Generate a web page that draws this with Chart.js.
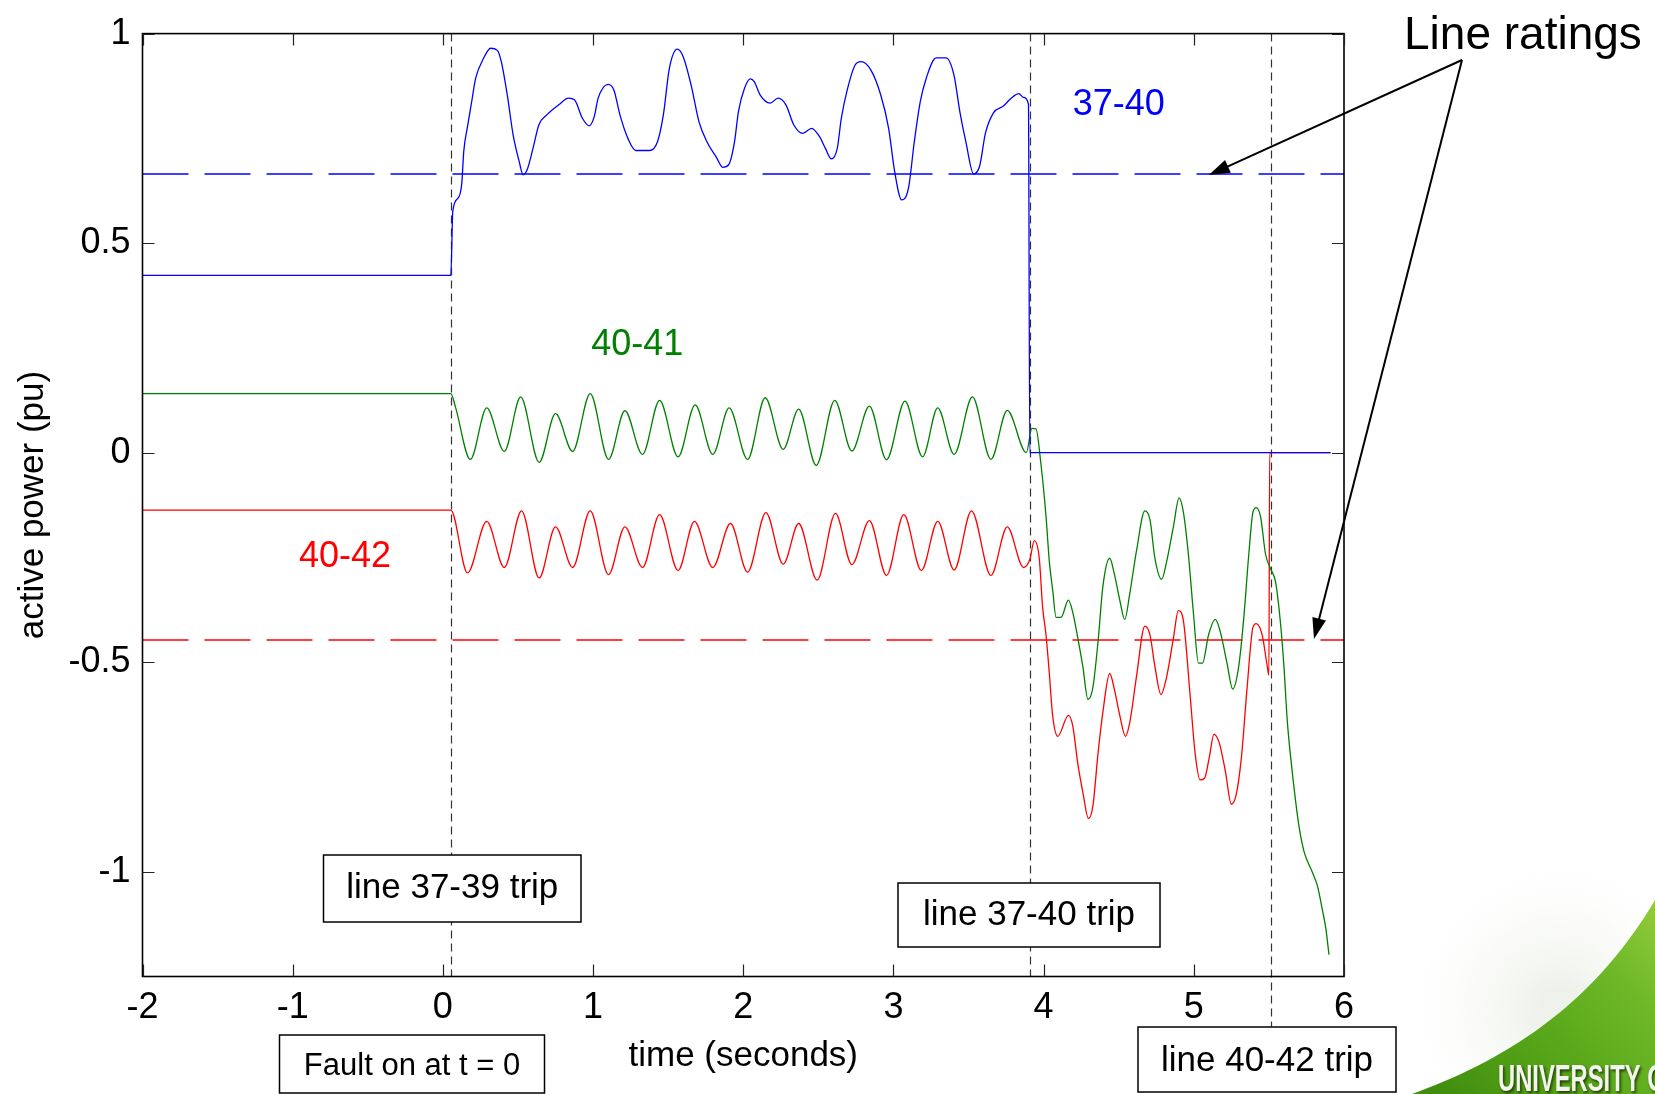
<!DOCTYPE html>
<html>
<head>
<meta charset="utf-8">
<title>active power after line trips</title>
<script src="https://cdn.jsdelivr.net/npm/chart.js@4.4.1/dist/chart.umd.min.js"></script>
<style>
  html, body { margin: 0; padding: 0; background: #fff; }
  canvas { display: block; }
</style>
</head>
<body>
<canvas id="powerChart" width="1655" height="1094"></canvas>
<script>
const FONT = 'Liberation Sans, Arial, Helvetica, sans-serif'

// axis ticks
const xTicks = [-2, -1, 0, 1, 2, 3, 4, 5, 6]
const yTicks = [-1, -0.5, 0, 0.5, 1]

// line 37-40 (blue)
const t3740 = [-2, 0.053, 0.066, 0.1, 0.126, 0.139, 0.166, 0.192, 0.218, 0.271, 0.318, 0.363, 0.389, 0.429, 0.468, 0.508, 0.534, 0.561, 0.6, 0.639,
  0.692, 0.771, 0.837, 0.876, 0.929, 0.974, 1.008, 1.034, 1.1, 1.139, 1.179, 1.232, 1.284, 1.376, 1.429, 1.468, 1.508, 1.561, 1.6, 1.653,
  1.705, 1.758, 1.824, 1.863, 1.903, 1.942, 1.968, 2.008, 2.047, 2.074, 2.113, 2.179, 2.232, 2.284, 2.337, 2.397, 2.455, 2.508, 2.547, 2.587,
  2.626, 2.653, 2.692, 2.745, 2.784, 2.85, 2.916, 2.968, 3.008, 3.055, 3.1, 3.139, 3.179, 3.218, 3.284, 3.35, 3.403, 3.442, 3.482, 3.534,
  3.574, 3.613, 3.666, 3.732, 3.784, 3.835, 3.864, 3.899, 3.908, 5.91]
const p3740 = [0.423, 0.423, 0.576, 0.607, 0.643, 0.719, 0.782, 0.838, 0.893, 0.941, 0.965, 0.96, 0.933, 0.853, 0.758, 0.695, 0.663, 0.675, 0.726, 0.782,
  0.806, 0.83, 0.846, 0.842, 0.798, 0.78, 0.802, 0.846, 0.879, 0.865, 0.806, 0.75, 0.721, 0.721, 0.742, 0.806, 0.917, 0.963, 0.945, 0.877,
  0.79, 0.742, 0.703, 0.681, 0.687, 0.742, 0.814, 0.869, 0.892, 0.885, 0.853, 0.834, 0.846, 0.83, 0.782, 0.762, 0.774, 0.754, 0.726, 0.701,
  0.726, 0.798, 0.865, 0.925, 0.933, 0.913, 0.853, 0.774, 0.671, 0.603, 0.631, 0.742, 0.838, 0.893, 0.942, 0.942, 0.901, 0.814, 0.742, 0.665,
  0.684, 0.763, 0.811, 0.827, 0.846, 0.857, 0.848, 0.832, 0, 0]

// line 40-41 (green)
const t4041 = [-2, 0.053, 0.083, 0.183, 0.292, 0.409, 0.518, 0.641, 0.75, 0.864, 0.981, 1.103, 1.212, 1.329, 1.443, 1.566, 1.68, 1.797, 1.906, 2.029,
  2.146, 2.266, 2.369, 2.486, 2.609, 2.723, 2.84, 2.954, 3.077, 3.194, 3.295, 3.404, 3.526, 3.649, 3.758, 3.885, 3.922, 3.949, 3.982, 4.016,
  4.038, 4.06, 4.083, 4.116, 4.165, 4.194, 4.228, 4.261, 4.295, 4.328, 4.362, 4.395, 4.44, 4.473, 4.507, 4.54, 4.574, 4.618, 4.674, 4.708,
  4.741, 4.786, 4.819, 4.864, 4.902, 4.931, 4.964, 4.998, 5.031, 5.058, 5.098, 5.143, 5.176, 5.221, 5.259, 5.299, 5.333, 5.366, 5.393, 5.415,
  5.444, 5.478, 5.511, 5.545, 5.578, 5.6, 5.623, 5.645, 5.679, 5.701, 5.734, 5.79, 5.824, 5.857, 5.879, 5.9]
const p4041 = [0.141, 0.141, 0.11, -0.016, 0.107, 0.003, 0.133, -0.023, 0.093, 0.003, 0.141, -0.016, 0.1, -0.004, 0.125, -0.01, 0.114, -0.004, 0.107, -0.016,
  0.131, 0.008, 0.104, -0.03, 0.125, 0.004, 0.111, -0.017, 0.123, -0.01, 0.107, -0.004, 0.133, -0.016, 0.101, 0, 0.058, 0.057, -0.027, -0.152,
  -0.26, -0.327, -0.393, -0.393, -0.352, -0.381, -0.443, -0.51, -0.589, -0.56, -0.452, -0.318, -0.252, -0.293, -0.352, -0.398, -0.335, -0.235, -0.139, -0.16,
  -0.252, -0.302, -0.26, -0.177, -0.108, -0.143, -0.243, -0.385, -0.502, -0.502, -0.435, -0.398, -0.427, -0.502, -0.564, -0.51, -0.393, -0.243, -0.143, -0.131,
  -0.152, -0.243, -0.277, -0.31, -0.41, -0.51, -0.643, -0.727, -0.835, -0.893, -0.952, -1.002, -1.035, -1.093, -1.135, -1.198]

// line 40-42 (red)
const t4042 = [-2, 0.053, 0.164, 0.292, 0.409, 0.524, 0.641, 0.75, 0.864, 0.981, 1.103, 1.212, 1.329, 1.443, 1.566, 1.675, 1.797, 1.915, 2.029, 2.151,
  2.266, 2.369, 2.492, 2.614, 2.723, 2.84, 2.954, 3.069, 3.186, 3.295, 3.404, 3.52, 3.649, 3.758, 3.866, 3.908, 3.938, 3.971, 3.993, 4.016,
  4.038, 4.06, 4.094, 4.165, 4.194, 4.228, 4.261, 4.299, 4.328, 4.362, 4.395, 4.44, 4.473, 4.507, 4.545, 4.574, 4.618, 4.674, 4.708, 4.741,
  4.781, 4.819, 4.864, 4.897, 4.931, 4.975, 5.009, 5.042, 5.071, 5.103, 5.134, 5.17, 5.21, 5.25, 5.281, 5.317, 5.355, 5.393, 5.415, 5.455,
  5.489, 5.5, 5.505, 5.91]
const p4042 = [-0.137, -0.137, -0.287, -0.164, -0.274, -0.139, -0.299, -0.177, -0.274, -0.139, -0.291, -0.177, -0.274, -0.148, -0.281, -0.164, -0.274, -0.169, -0.285, -0.143,
  -0.266, -0.169, -0.304, -0.145, -0.267, -0.162, -0.293, -0.148, -0.281, -0.164, -0.28, -0.139, -0.293, -0.177, -0.274, -0.255, -0.21, -0.252, -0.368, -0.435,
  -0.527, -0.627, -0.677, -0.627, -0.652, -0.743, -0.81, -0.873, -0.843, -0.718, -0.618, -0.527, -0.568, -0.627, -0.677, -0.643, -0.535, -0.414, -0.435, -0.51,
  -0.577, -0.535, -0.443, -0.377, -0.402, -0.577, -0.718, -0.781, -0.777, -0.727, -0.672, -0.693, -0.76, -0.839, -0.818, -0.727, -0.56, -0.418, -0.408, -0.435,
  -0.51, -0.531, 0, 0]

// thermal ratings (dashed)
const ratingSpan = [-2, 6]
const rating3740 = 0.665
const rating4042 = -0.447

// switching events: fault/37-39 trip, 37-40 trip, 40-42 trip
const eventTimes = [0.053, 3.908, 5.515]
const eventLows = [-1.25, -1.25, -1.37]

function pts(ts, ps) {
  return ts.map((t, i) => ({ x: t, y: ps[i] }))
}

// marker lines sit under the traces
const eventLines = {
  id: 'eventLines',
  beforeDatasetsDraw(chart) {
    const { ctx, chartArea: a, scales: { x, y } } = chart
    ctx.save()
    ctx.setLineDash([8, 5])
    ctx.strokeStyle = '#333'
    ctx.lineWidth = 1.2
    eventTimes.forEach((t, i) => {
      const px = Math.round(x.getPixelForValue(t)) + 0.5
      ctx.beginPath()
      ctx.moveTo(px, a.top)
      ctx.lineTo(px, y.getPixelForValue(eventLows[i]))
      ctx.stroke()
    })
    ctx.restore()
  }
}

function textBox(ctx, label, bx, by, bw, bh, size, ty) {
  ctx.fillStyle = '#fff'
  ctx.fillRect(bx, by, bw, bh)
  ctx.strokeStyle = '#000'
  ctx.lineWidth = 1.5
  ctx.strokeRect(bx, by, bw, bh)
  ctx.fillStyle = '#000'
  ctx.font = `${size}px ${FONT}`
  ctx.textAlign = 'center'
  ctx.textBaseline = 'middle'
  ctx.fillText(label, bx + bw / 2, ty)
}

function arrow(ctx, x0, y0, x1, y1) {
  const ang = Math.atan2(y1 - y0, x1 - x0)
  const len = 21, half = 7
  ctx.beginPath()
  ctx.moveTo(x0, y0)
  ctx.lineTo(x1 - Math.cos(ang) * len * 0.8, y1 - Math.sin(ang) * len * 0.8)
  ctx.stroke()
  ctx.beginPath()
  ctx.moveTo(x1, y1)
  ctx.lineTo(x1 - Math.cos(ang) * len - Math.sin(ang) * half, y1 - Math.sin(ang) * len + Math.cos(ang) * half)
  ctx.lineTo(x1 - Math.cos(ang) * len + Math.sin(ang) * half, y1 - Math.sin(ang) * len - Math.cos(ang) * half)
  ctx.closePath()
  ctx.fill()
}

// frame with inward ticks, labels, boxes, arrows and the corner logo
const decorations = {
  id: 'decorations',
  afterDraw(chart) {
    const { ctx, chartArea: a, scales: { x, y } } = chart
    ctx.save()

    ctx.strokeStyle = '#000'
    ctx.lineWidth = 1.6
    ctx.strokeRect(a.left, a.top, a.width, a.height)
    ctx.lineWidth = 1.2
    ctx.strokeStyle = '#222'
    ctx.beginPath()
    xTicks.forEach(v => {
      const px = Math.round(x.getPixelForValue(v)) + 0.5
      ctx.moveTo(px, a.bottom); ctx.lineTo(px, a.bottom - 12)
      ctx.moveTo(px, a.top); ctx.lineTo(px, a.top + 12)
    })
    yTicks.forEach(v => {
      const py = Math.round(y.getPixelForValue(v)) + 0.5
      ctx.moveTo(a.left, py); ctx.lineTo(a.left + 12, py)
      ctx.moveTo(a.right, py); ctx.lineTo(a.right - 12, py)
    })
    ctx.stroke()

    // trace names
    ctx.font = `36px ${FONT}`
    ctx.textAlign = 'center'
    ctx.textBaseline = 'middle'
    ctx.fillStyle = '#0000ff'
    ctx.fillText('37-40', x.getPixelForValue(4.5), y.getPixelForValue(0.83))
    ctx.fillStyle = '#008000'
    ctx.fillText('40-41', x.getPixelForValue(1.294), y.getPixelForValue(0.257))
    ctx.fillStyle = '#ff0000'
    ctx.fillText('40-42', x.getPixelForValue(-0.651), y.getPixelForValue(-0.25))

    // event boxes
    textBox(ctx, 'line 37-39 trip', 323.5, 855, 257.5, 67, 35, 888.5)
    textBox(ctx, 'line 37-40 trip', 898, 883, 262, 64, 35, 915.5)
    textBox(ctx, 'Fault on at t = 0', 279.5, 1035, 265, 58, 31, 1066)
    textBox(ctx, 'line 40-42 trip', 1138, 1027, 258, 65, 35, 1061)

    // ratings callout
    ctx.fillStyle = '#000'
    ctx.font = `46px ${FONT}`
    ctx.textAlign = 'left'
    ctx.textBaseline = 'alphabetic'
    ctx.fillText('Line ratings', 1404, 49)
    ctx.strokeStyle = '#000'
    ctx.lineWidth = 2
    ctx.setLineDash([])
    arrow(ctx, 1462, 60, x.getPixelForValue(5.1), y.getPixelForValue(rating3740) + 1)
    arrow(ctx, 1462, 60, x.getPixelForValue(5.8), y.getPixelForValue(rating4042) - 1)

    // university corner swoosh
    const glow = ctx.createRadialGradient(1560, 1010, 20, 1560, 1010, 170)
    glow.addColorStop(0, 'rgba(236, 240, 232, 0.9)')
    glow.addColorStop(1, 'rgba(255, 255, 255, 0)')
    ctx.fillStyle = glow
    ctx.fillRect(1400, 860, 255, 234)
    const g = ctx.createLinearGradient(1430, 1094, 1655, 900)
    g.addColorStop(0, '#3f8c0e')
    g.addColorStop(0.45, '#5aa81a')
    g.addColorStop(0.75, '#6fb928')
    g.addColorStop(1, '#93cc3c')
    ctx.fillStyle = g
    ctx.beginPath()
    ctx.moveTo(1412, 1094)
    ctx.bezierCurveTo(1500, 1062, 1590, 1010, 1655, 900)
    ctx.lineTo(1655, 1094)
    ctx.closePath()
    ctx.fill()
    ctx.save()
    ctx.translate(1498, 1091)
    ctx.scale(0.66, 1)
    ctx.font = `bold 36px ${FONT}`
    ctx.shadowColor = 'rgba(20, 50, 0, 0.9)'
    ctx.shadowBlur = 3
    ctx.shadowOffsetX = 1.5
    ctx.shadowOffsetY = 1.5
    ctx.fillStyle = '#f4f4ee'
    ctx.fillText('UNIVERSITY OF', 0, 0)
    ctx.restore()

    ctx.restore()
  }
}

const tickFont = { family: FONT, size: 36, lineHeight: 1.2 }
const titleFont = { family: FONT, size: 35, lineHeight: 1.2 }

new Chart(document.getElementById('powerChart').getContext('2d'), {
  type: 'line',
  data: {
    datasets: [
      { label: '37-40', data: pts(t3740, p3740), borderColor: '#0000ff' },
      { label: '40-41', data: pts(t4041, p4041), borderColor: '#008000' },
      { label: '40-42', data: pts(t4042, p4042), borderColor: '#ff0000' },
      { label: '37-40 rating', data: pts(ratingSpan, [rating3740, rating3740]), borderColor: '#0000ff',
        borderWidth: 1.5, borderDash: [46, 16], cubicInterpolationMode: 'default' },
      { label: '40-42 rating', data: pts(ratingSpan, [rating4042, rating4042]), borderColor: '#ff0000',
        borderWidth: 1.5, borderDash: [46, 16], cubicInterpolationMode: 'default' }
    ]
  },
  options: {
    responsive: false,
    animation: false,
    events: [],
    layout: { padding: { top: 31.7, right: 311, bottom: 0, left: 0 } },
    elements: {
      point: { radius: 0 },
      line: { borderWidth: 1.3, cubicInterpolationMode: 'monotone', fill: false }
    },
    plugins: { legend: { display: false }, tooltip: { enabled: false } },
    scales: {
      x: {
        type: 'linear', min: -2, max: 6,
        afterFit: s => { s.height = 117.5 },
        afterBuildTicks: s => { s.ticks = xTicks.map(v => ({ value: v })) },
        grid: { display: false, drawTicks: false },
        border: { display: false },
        ticks: { font: tickFont, color: '#000', padding: 10, maxRotation: 0, autoSkip: false, callback: v => String(v) },
        title: { display: true, text: 'time (seconds)', font: titleFont, color: '#000', padding: { top: 0, bottom: 17 } }
      },
      y: {
        type: 'linear', min: -1.25, max: 1,
        afterFit: s => { s.width = 142.5 },
        afterBuildTicks: s => { s.ticks = yTicks.map(v => ({ value: v })) },
        grid: { display: false, drawTicks: false },
        border: { display: false },
        ticks: { font: tickFont, color: '#000', padding: 12, autoSkip: false, callback: v => String(v) },
        title: { display: true, text: 'active power (pu)', font: titleFont, color: '#000', padding: { top: 12, bottom: 0 } }
      }
    }
  },
  plugins: [eventLines, decorations]
})
</script>
</body>
</html>
